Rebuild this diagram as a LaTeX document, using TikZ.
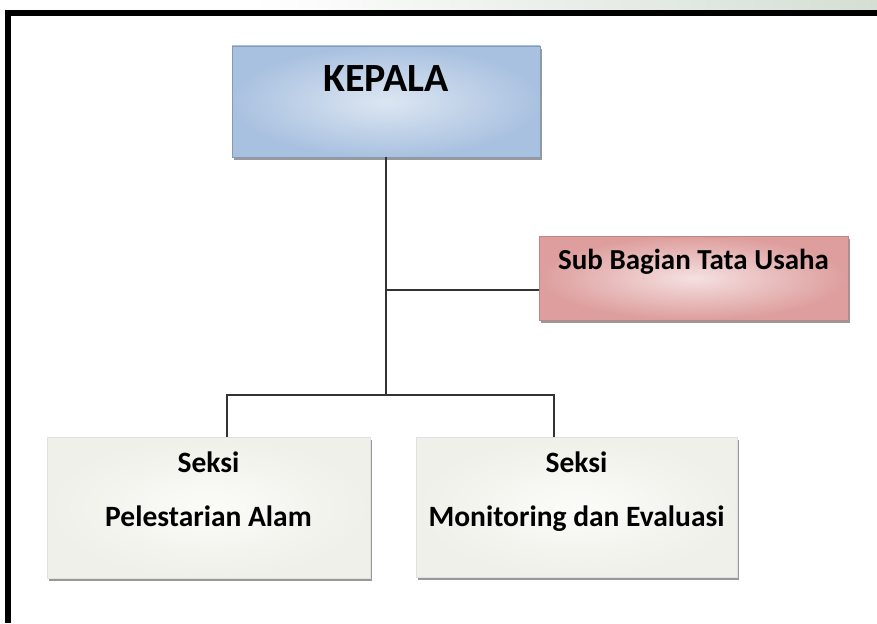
\documentclass[tikz,border=0pt]{standalone}
\usepackage{fontspec}
\setmainfont{Carlito}
\usepackage{tikz}
\usetikzlibrary{shadows,calc}
\definecolor{kepalain}{HTML}{DCE6F2}
\definecolor{kepalaout}{HTML}{A9C1E0}
\definecolor{tuin}{HTML}{F5E0E0}
\definecolor{tuout}{HTML}{DD9E9D}
\definecolor{seksiin}{HTML}{FBFBF8}
\definecolor{seksiout}{HTML}{F0F0EA}
\definecolor{wmark}{HTML}{D5DED5}

\begin{document}
\begin{tikzpicture}[x=1pt,y=-1pt,
  kotak/.style={rectangle,inner sep=0pt,align=center,
    drop shadow={shadow xshift=1.5pt,shadow yshift=-3pt,fill=black!40,opacity=1}},
  kepalabox/.style={kotak,draw=kepalaout!80!black,line width=0.6pt,
    inner color=kepalain,outer color=kepalaout,
    font=\fontsize{40}{42}\selectfont\bfseries},
  tubox/.style={kotak,draw=tuout!85!black,line width=0.6pt,
    inner color=tuin,outer color=tuout,
    font=\fontsize{29}{32}\selectfont\bfseries},
  seksibox/.style={kotak,draw=black!12,line width=0.5pt,
    inner color=seksiin,outer color=seksiout,
    font=\fontsize{29.5}{54}\selectfont\bfseries},
  link/.style={draw=black!80,line width=1.2pt}]
\useasboundingbox (0,0) rectangle (877,623);
\fill[left color=white,right color=wmark] (250,0) rectangle (877,10);
\draw[line width=6pt] (8,623) -- (8,13) -- (877,13);

\node[kepalabox,minimum width=308pt,minimum height=111pt,
  text height=46pt,text depth=65pt] (kepala) at (386,101.5) {KEPALA};
\node[tubox,minimum width=309pt,minimum height=84pt,
  text height=33pt,text depth=51pt] (tu) at (693.5,278) {Sub Bagian Tata Usaha};
\node[seksibox,minimum width=323pt,minimum height=141pt,
  text height=89pt,text depth=52pt] (pa) at (208.5,507.5) {Seksi\\Pelestarian Alam};
\node[seksibox,minimum width=321pt,minimum height=140pt,
  text height=89pt,text depth=51pt] (monev) at (576.5,507) {Seksi\\Monitoring dan Evaluasi};

\coordinate (cabang) at (386,290);
\coordinate (bus) at (386,395);
\coordinate (busL) at (227,395);
\coordinate (busR) at (554,395);
\draw[link] (kepala.south) -- (bus);
\draw[link] (cabang) -- (cabang -| tu.west);
\draw[link] (busL |- pa.north) -- (busL) -- (busR) -- (busR |- monev.north);
\end{tikzpicture}
\end{document}
